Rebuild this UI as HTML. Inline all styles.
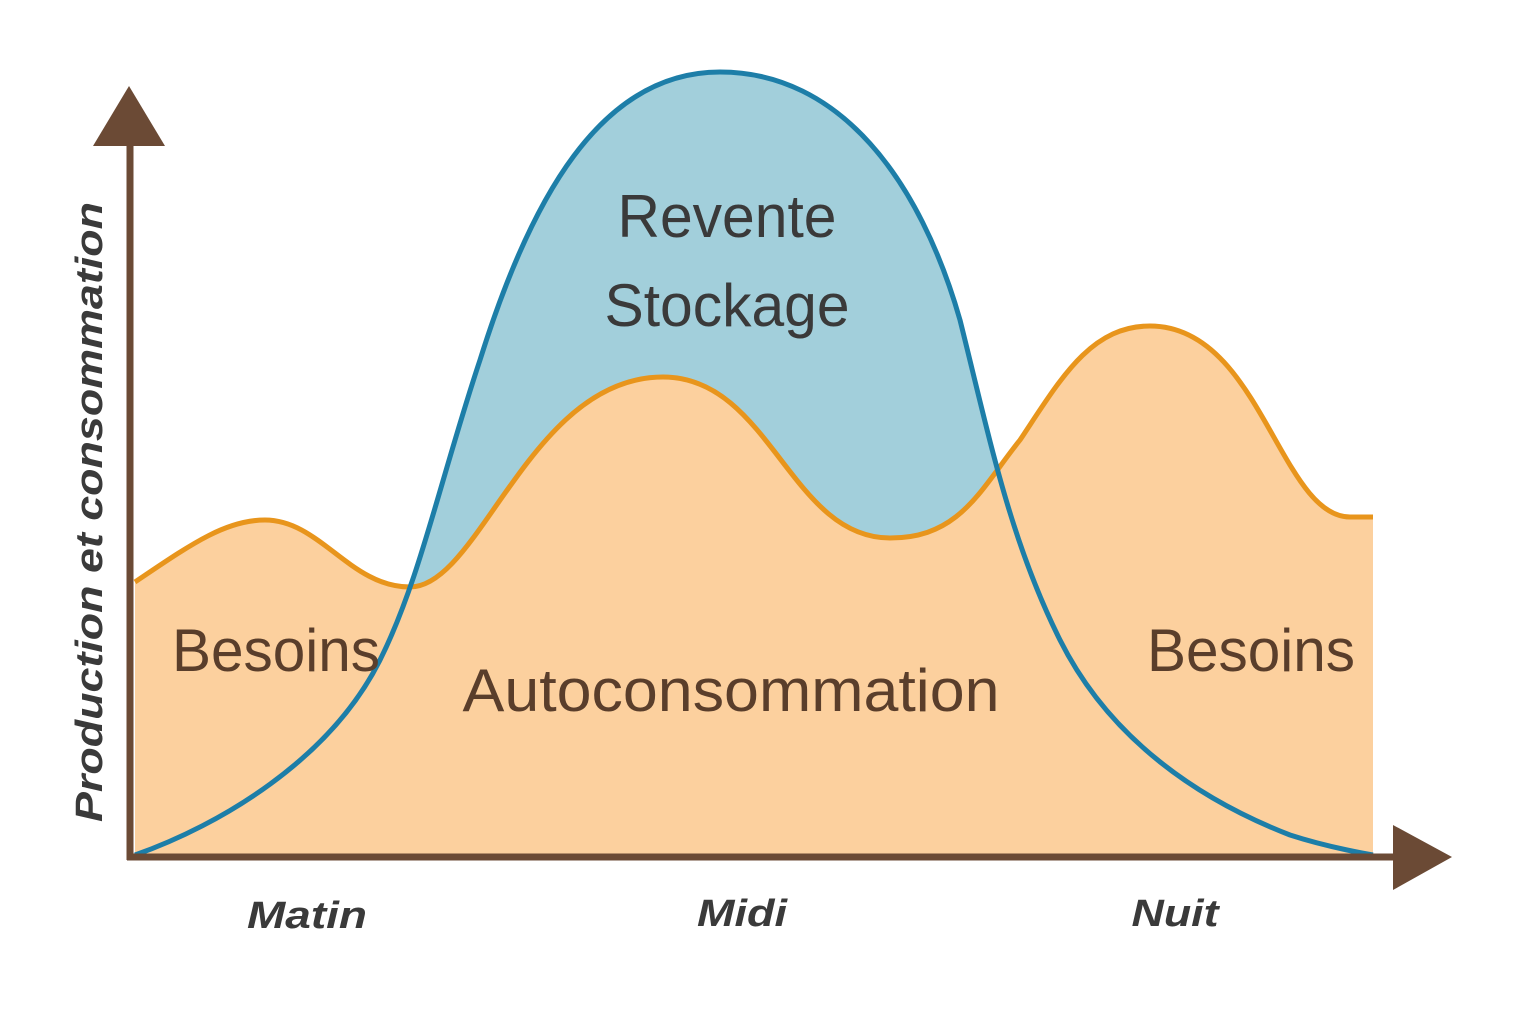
<!DOCTYPE html>
<html><head><meta charset="utf-8"><style>
html,body{margin:0;padding:0;background:#fff;}
svg{display:block;}
</style></head><body>
<svg width="1536" height="1024" viewBox="0 0 1536 1024" xmlns="http://www.w3.org/2000/svg">
<rect width="1536" height="1024" fill="#fff"/>
<path d="M135,855 C220,825 330,760 380,660 C420,580 440,480 480,360 C530,200 600,72 720,72 C840,72 920,180 960,320 C990,440 1010,540 1060,640 C1110,740 1200,800 1290,835 C1330,848 1373,855 1373,855 Z" fill="#a2cfdb"/>
<path d="M135,582 C190,545 225,520 265,520 C320,520 350,587 410,587 C480,587 530,377 663,377 C770,377 790,538 890,538 C960,538 980,490 1020,440 C1060,380 1090,326 1150,326 C1260,326 1280,517 1350,517 L1373,517 L1373,855 L135,855 Z" fill="#fcd09e"/>
<path d="M135,582 C190,545 225,520 265,520 C320,520 350,587 410,587 C480,587 530,377 663,377 C770,377 790,538 890,538 C960,538 980,490 1020,440 C1060,380 1090,326 1150,326 C1260,326 1280,517 1350,517 L1373,517" fill="none" stroke="#e8951c" stroke-width="5"/>
<path d="M135,855 C220,825 330,760 380,660 C420,580 440,480 480,360 C530,200 600,72 720,72 C840,72 920,180 960,320 C990,440 1010,540 1060,640 C1110,740 1200,800 1290,835 C1330,848 1373,855 1373,855" fill="none" stroke="#1d7ea8" stroke-width="5"/>
<line x1="130" y1="140" x2="130" y2="860" stroke="#6b4a35" stroke-width="7"/>
<polygon points="93,146 165,146 129,86" fill="#6b4a35"/>
<line x1="127" y1="857" x2="1400" y2="857" stroke="#6b4a35" stroke-width="7"/>
<polygon points="1393,825 1393,890 1452,857" fill="#6b4a35"/>
<g font-family="Liberation Sans, sans-serif">
<text x="0" y="0" transform="translate(102,512) rotate(-90)" text-anchor="middle" font-size="38" font-weight="bold" font-style="italic" fill="#3a3a3a" textLength="620" lengthAdjust="spacingAndGlyphs">Production et consommation</text>
<text x="307" y="928" text-anchor="middle" font-size="38" font-weight="bold" font-style="italic" fill="#3a3a3a" textLength="120" lengthAdjust="spacingAndGlyphs">Matin</text>
<text x="742" y="926" text-anchor="middle" font-size="38" font-weight="bold" font-style="italic" fill="#3a3a3a" textLength="90" lengthAdjust="spacingAndGlyphs">Midi</text>
<text x="1175" y="926" text-anchor="middle" font-size="38" font-weight="bold" font-style="italic" fill="#3a3a3a" textLength="87" lengthAdjust="spacingAndGlyphs">Nuit</text>
<text x="727" y="237" text-anchor="middle" font-size="60" fill="#3a3a3a" textLength="219" lengthAdjust="spacingAndGlyphs">Revente</text>
<text x="727" y="326" text-anchor="middle" font-size="60" fill="#3a3a3a" textLength="245" lengthAdjust="spacingAndGlyphs">Stockage</text>
<text x="276" y="671" text-anchor="middle" font-size="60" fill="#5a3e2b" textLength="208" lengthAdjust="spacingAndGlyphs">Besoins</text>
<text x="731" y="711" text-anchor="middle" font-size="60" fill="#5a3e2b" textLength="537" lengthAdjust="spacingAndGlyphs">Autoconsommation</text>
<text x="1251" y="671" text-anchor="middle" font-size="60" fill="#5a3e2b" textLength="208" lengthAdjust="spacingAndGlyphs">Besoins</text>
</g>
</svg>
</body></html>
